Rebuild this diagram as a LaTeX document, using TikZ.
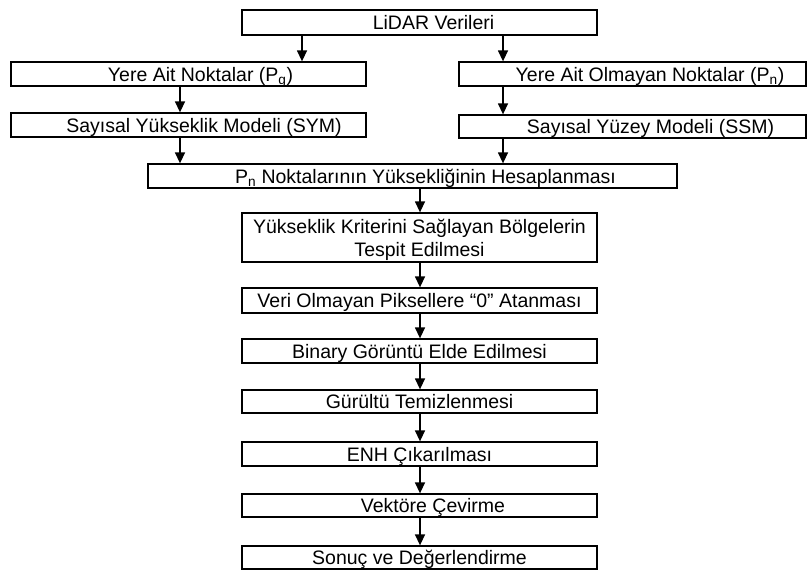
\documentclass[tikz,border=0pt]{standalone}
\usepackage{fontspec}
\setmainfont{Liberation Sans}
\usetikzlibrary{arrows.meta}
\newcommand{\shiftr}[1]{\hspace*{#1pt}}
\begin{document}
\begin{tikzpicture}[x=1pt,y=-1pt,
  box/.style={draw=black,line width=1.3pt,rectangle,inner sep=0pt,align=center,
    text depth=0pt,font=\fontsize{19.5}{23}\selectfont},
  arr/.style={line width=1.4pt,-{Triangle[length=11pt,width=10pt]}}]
\useasboundingbox (0,0) rectangle (808,570);
\node[box,minimum width=355pt,minimum height=25pt] (lidar) at (419.5,22.5) {\shiftr{28}LiDAR Verileri};
\node[box,minimum width=355pt,minimum height=24pt] (pg) at (188.5,74) {\shiftr{24}Yere Ait Noktalar (P\textsubscript{g})};
\node[box,minimum width=347pt,minimum height=24pt] (pn) at (632.5,74) {\shiftr{35}Yere Ait Olmayan Noktalar (P\textsubscript{n})};
\node[box,minimum width=355pt,minimum height=24pt] (sym) at (188.5,125) {\shiftr{31}Sayısal Yükseklik Modeli (SYM)};
\node[box,minimum width=347pt,minimum height=23pt] (ssm) at (632.5,126.5) {\shiftr{36}Sayısal Yüzey Modeli (SSM)};
\node[box,minimum width=529pt,minimum height=24pt] (hes) at (412.5,176) {\shiftr{26}P\textsubscript{n} Noktalarının Yüksekliğinin Hesaplanması};
\node[box,minimum width=355pt,minimum height=49pt] (yuk) at (419.5,237.5) {Yükseklik Kriterini Sağlayan Bölgelerin\\Tespit Edilmesi};
\node[box,minimum width=355pt,minimum height=25pt] (veri) at (419.5,300.5) {Veri Olmayan Piksellere “0” Atanması};
\node[box,minimum width=355pt,minimum height=24pt] (bin) at (419.5,351) {Binary Görüntü Elde Edilmesi};
\node[box,minimum width=355pt,minimum height=23pt] (gur) at (419.5,401.5) {Gürültü Temizlenmesi};
\node[box,minimum width=355pt,minimum height=24pt] (enh) at (419.5,454) {ENH Çıkarılması};
\node[box,minimum width=355pt,minimum height=23pt] (vek) at (419.5,505.5) {\shiftr{27}Vektöre Çevirme};
\node[box,minimum width=355pt,minimum height=23pt] (son) at (419.5,557.5) {Sonuç ve Değerlendirme};
\coordinate (xl) at (302,0);
\coordinate (xr) at (503,0);
\coordinate (xs) at (180,0);
\coordinate (xc) at (420,0);
\draw[arr] (lidar.south -| xl) -- (pg.north -| xl);
\draw[arr] (lidar.south -| xr) -- (pn.north -| xr);
\draw[arr] (pg.south -| xs) -- (sym.north -| xs);
\draw[arr] (pn.south -| xr) -- (ssm.north -| xr);
\draw[arr] (sym.south -| xs) -- (hes.north -| xs);
\draw[arr] (ssm.south -| xr) -- (hes.north -| xr);
\draw[arr] (hes.south -| xc) -- (yuk.north -| xc);
\draw[arr] (yuk.south -| xc) -- (veri.north -| xc);
\draw[arr] (veri.south -| xc) -- (bin.north -| xc);
\draw[arr] (bin.south -| xc) -- (gur.north -| xc);
\draw[arr] (gur.south -| xc) -- (enh.north -| xc);
\draw[arr] (enh.south -| xc) -- (vek.north -| xc);
\draw[arr] (vek.south -| xc) -- (son.north -| xc);
\end{tikzpicture}
\end{document}
